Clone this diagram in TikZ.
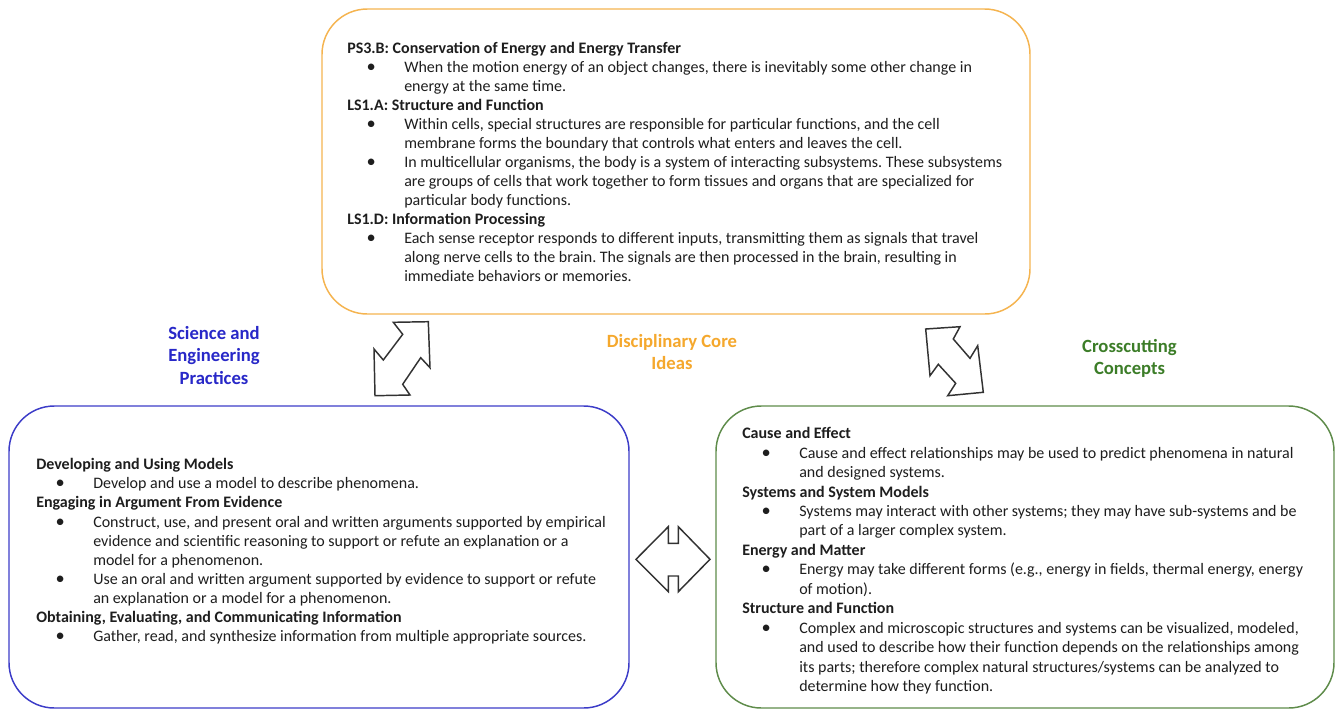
\documentclass[tikz,border=0pt]{standalone}
\usepackage{fontspec}
\setmainfont{Carlito}
\definecolor{dciOrange}{RGB}{245,168,45}
\definecolor{dciBorder}{RGB}{245,180,80}
\definecolor{sepBlue}{RGB}{40,40,200}
\definecolor{sepBorder}{RGB}{60,60,200}
\definecolor{ccGreen}{RGB}{60,125,40}
\definecolor{ccBorder}{RGB}{95,140,75}
\definecolor{txt}{RGB}{30,30,30}
\definecolor{arr}{RGB}{50,50,50}
\newcommand\hdline[1]{\textbf{#1}}
\newcommand\bitem[1]{\hspace*{18pt}\makebox[0pt]{\scalebox{1.15}{\textbullet}}\hspace*{24.75pt}#1}
\newcommand\bcont[1]{\hspace*{42.75pt}#1}
\frenchspacing
\begin{document}
\begin{tikzpicture}[x=0.75pt,y=-0.75pt,
  box/.style={draw, line width=1.1pt, rounded corners=34pt, inner sep=0pt},
  boxtext/.style={anchor=north west, inner sep=0pt, align=left, text=txt},
  lbl/.style={align=center, font=\fontsize{14}{16.9}\selectfont\bfseries, inner sep=0pt},
  blockarrow/.style={draw=arr, line width=1.1pt, line join=miter}]
\useasboundingbox[fill=white] (0,0) rectangle (1336,711);
% boxes
\node[box, draw=dciBorder, minimum width=531pt, minimum height=228.75pt] (dci) at (676,161.5) {};
\node[box, draw=sepBorder, minimum width=465pt, minimum height=226.5pt] (sep) at (319,557) {};
\node[box, draw=ccBorder, minimum width=463.5pt, minimum height=226.5pt] (cc) at (1025,557) {};
% texts
\node[boxtext, font=\fontsize{12}{14.27}\selectfont\frenchspacing] (dcitext) at (347,39.7) {%
\strut\hdline{PS3.B: Conservation of Energy and Energy Transfer}\\
\bitem{When the motion energy of an object changes, there is inevitably some other change in}\\
\bcont{energy at the same time.}\\
\hdline{LS1.A: Structure and Function}\\
\bitem{Within cells, special structures are responsible for particular functions, and the cell}\\
\bcont{membrane forms the boundary that controls what enters and leaves the cell.}\\
\bitem{In multicellular organisms, the body is a system of interacting subsystems. These subsystems}\\
\bcont{are groups of cells that work together to form tissues and organs that are specialized for}\\
\bcont{particular body functions.}\\
\hdline{LS1.D: Information Processing}\\
\bitem{Each sense receptor responds to different inputs, transmitting them as signals that travel}\\
\bcont{along nerve cells to the brain. The signals are then processed in the brain, resulting in}\\
\bcont{immediate behaviors or memories.}};
\node[boxtext, font=\fontsize{12}{14.33}\selectfont\frenchspacing] (septext) at (36,456.1) {%
\strut\hdline{Developing and Using Models}\\
\bitem{Develop and use a model to describe phenomena.}\\
\hdline{Engaging in Argument From Evidence}\\
\bitem{Construct, use, and present oral and written arguments supported by empirical}\\
\bcont{evidence and scientific reasoning to support or refute an explanation or a}\\
\bcont{model for a phenomenon.}\\
\bitem{Use an oral and written argument supported by evidence to support or refute}\\
\bcont{an explanation or a model for a phenomenon.}\\
\hdline{Obtaining, Evaluating, and Communicating Information}\\
\bitem{Gather, read, and synthesize information from multiple appropriate sources.}};
\node[boxtext, font=\fontsize{12}{14.58}\selectfont\frenchspacing] (cctext) at (742,424.9) {%
\strut\hdline{Cause and Effect}\\
\bitem{Cause and effect relationships may be used to predict phenomena in natural}\\
\bcont{and designed systems.}\\
\hdline{Systems and System Models}\\
\bitem{Systems may interact with other systems; they may have sub-systems and be}\\
\bcont{part of a larger complex system.}\\
\hdline{Energy and Matter}\\
\bitem{Energy may take different forms (e.g., energy in fields, thermal energy, energy}\\
\bcont{of motion).}\\
\hdline{Structure and Function}\\
\bitem{Complex and microscopic structures and systems can be visualized, modeled,}\\
\bcont{and used to describe how their function depends on the relationships among}\\
\bcont{its parts; therefore complex natural structures/systems can be analyzed to}\\
\bcont{determine how they function.}};
% labels
\node[lbl, text=sepBlue] (seplbl) at (214,355.5) {Science and\\Engineering\\Practices};
\node[lbl, text=dciOrange] (dcilbl) at (672,351.8) {Disciplinary Core\\Ideas};
\node[lbl, text=ccGreen] (cclbl) at (1129.5,358.3) {Crosscutting\\Concepts};
% block arrows
\draw[blockarrow] (393.3,322.3) -- (428.3,321.7) -- (430,367.7) -- (420.7,357.7) -- (402.7,384.3) -- (410,395) -- (375,395.7) -- (374,349) -- (383.3,360) -- (402.7,334.3) -- cycle;
\draw[blockarrow] (925.7,329) -- (960,326.7) -- (953.3,339) -- (970,358.3) -- (977.7,345.7) -- (983.3,392.3) -- (947.7,395.7) -- (955.7,383.3) -- (938.3,364.3) -- (930,375.7) -- cycle;
\draw[blockarrow] (636,559.3) -- (668.3,526.7) -- (668.3,543.3) -- (678.3,543.3) -- (678.3,526.7) -- (710,559.3) -- (678.3,591.7) -- (678.3,576) -- (668.3,576) -- (668.3,591.7) -- cycle;
\end{tikzpicture}
\end{document}
